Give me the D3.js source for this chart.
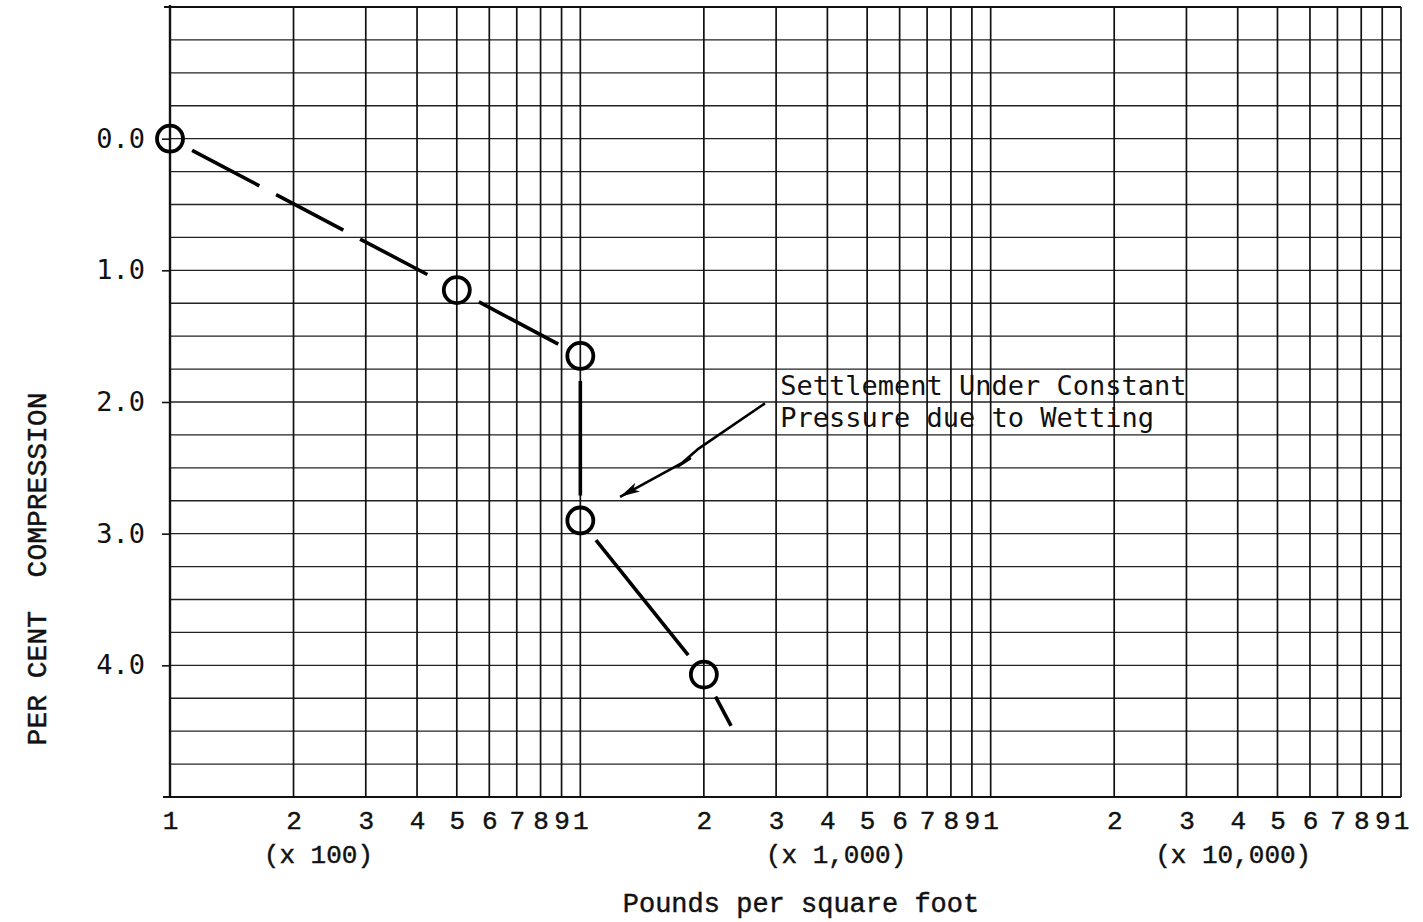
<!DOCTYPE html>
<html>
<head>
<meta charset="utf-8">
<script src="https://cdn.jsdelivr.net/npm/d3@7"></script>
<style>
    body { margin: 0; background: #fff; }
    svg { display: block; }
    .mono { font-family: 'Liberation Mono', 'Courier New', monospace; fill: #111; stroke: #111; stroke-width: 0.45px; }
    .gothic { font-family: 'DejaVu Sans Mono', monospace; fill: #111; }
</style>
</head>
<body>
<div id="chart"></div>
<script>
//Datos del ensayo
const pressure = [100, 500, 1000, 1000, 2000];
const compression = [0.0, 1.15, 1.65, 2.9, 4.07];
const tailPressure = [2330];
const tailCompression = [4.46];

//Ejes
const yTicks = [0, 1, 2, 3, 4];
const decades = [100, 1000, 10000];
const multipliers = [1, 2, 3, 4, 5, 6, 7, 8, 9];
const xTickLabels = ['1', '2', '3', '4', '5', '6', '7', '8', '9'];
const decadeLabels = ['(x 100)', '(x 1,000)', '(x 10,000)'];
const decadeLabelAt = [230, 4200, 39000];

//Anotación
const annotationLines = ['Settlement Under Constant', 'Pressure due to Wetting'];
const annotationPressure = [3070];
const annotationCompression = [1.95];
const arrowPressure = [2818, 1930, 1730, 1850, 1250];
const arrowCompression = [2.01, 2.36, 2.49, 2.43, 2.72];

let margin = {top: 7, right: 22, bottom: 125, left: 170},
    width = 1423 - margin.left - margin.right,
    height = 922 - margin.top - margin.bottom;

let svg = d3.select('#chart')
    .append('svg')
        .attr('width', width + margin.left + margin.right)
        .attr('height', height + margin.top + margin.bottom)
    .append('g')
        .attr('transform', 'translate(' + margin.left + ',' + margin.top + ')');

let x = d3.scaleLog()
    .domain([100, 100000])
    .range([0, width]);

let y = d3.scaleLinear()
    .domain([-1, 5])
    .range([0, height]);

//Rejilla
let xGrid = [];
decades.forEach(function(dec) {
    multipliers.forEach(function(m) { xGrid.push(dec * m); });
});
xGrid.push(100000);

let yGrid = d3.range(-1, 5.001, 0.25);

svg.append('g')
    .selectAll('line')
    .data(yGrid)
    .enter()
    .append('line')
    .attr('x1', 0)
    .attr('x2', width)
    .attr('y1', function(d) { return y(d); })
    .attr('y2', function(d) { return y(d); })
    .attr('stroke', '#222')
    .attr('stroke-width', 1.3);

svg.append('g')
    .selectAll('line')
    .data(xGrid)
    .enter()
    .append('line')
    .attr('x1', function(d) { return x(d); })
    .attr('x2', function(d) { return x(d); })
    .attr('y1', 0)
    .attr('y2', height)
    .attr('stroke', '#111')
    .attr('stroke-width', 1.7);

//Marco
svg.append('line')
    .attr('x1', -6).attr('x2', width)
    .attr('y1', 0).attr('y2', 0)
    .attr('stroke', '#111').attr('stroke-width', 1.8);
svg.append('line')
    .attr('x1', -7).attr('x2', width)
    .attr('y1', height).attr('y2', height)
    .attr('stroke', '#111').attr('stroke-width', 1.8);
svg.append('line')
    .attr('x1', 0).attr('x2', 0)
    .attr('y1', -2).attr('y2', height)
    .attr('stroke', '#111').attr('stroke-width', 2.4);

//Eje X
let xAxis = d3.axisBottom(x)
    .tickValues(xGrid)
    .tickSize(0)
    .tickPadding(14)
    .tickFormat(function(d, i) { return xTickLabels[i % 9]; });

let gx = svg.append('g')
    .attr('transform', 'translate(0,' + height + ')')
    .call(xAxis);
gx.select('.domain').remove();
gx.selectAll('text')
    .attr('class', 'mono')
    .style('font-size', '26px');

svg.append('g')
    .selectAll('text')
    .data(decadeLabels)
    .enter()
    .append('text')
    .attr('class', 'mono')
    .attr('x', function(d, i) { return x(decadeLabelAt[i]); })
    .attr('y', height + 66)
    .attr('text-anchor', 'middle')
    .style('font-size', '26px')
    .text(function(d) { return d; });

//Eje Y
let yAxis = d3.axisLeft(y)
    .tickValues(yTicks)
    .tickSize(8)
    .tickPadding(17)
    .tickFormat(d3.format('.1f'));

let gy = svg.append('g').call(yAxis);
gy.select('.domain').remove();
gy.selectAll('.tick line').attr('stroke', '#111').attr('stroke-width', 1.6);
gy.selectAll('text')
    .attr('class', 'gothic')
    .style('font-size', '27px');

//Títulos
svg.append('text')
    .attr('class', 'mono')
    .attr('x', 631)
    .attr('y', height + 115)
    .attr('text-anchor', 'middle')
    .style('font-size', '27px')
    .text('Pounds per square foot');

svg.append('text')
    .attr('class', 'mono')
    .attr('transform', 'translate(' + (46 - margin.left) + ',' + 562 + ') rotate(-90)')
    .attr('text-anchor', 'middle')
    .style('font-size', '28px')
    .style('white-space', 'pre')
    .attr('xml:space', 'preserve')
    .text('PER CENT  COMPRESSION');

//Curva
let pts = pressure.map(function(p, i) { return [x(p), y(compression[i]), true]; });
tailPressure.forEach(function(p, i) { pts.push([x(p), y(tailCompression[i]), false]); });

let gap = 25;
let segs = [];
for (let i = 0; i < pts.length - 1; i++) {
    let a = pts[i], b = pts[i + 1];
    let dx = b[0] - a[0], dy = b[1] - a[1];
    let len = Math.sqrt(dx * dx + dy * dy);
    let ux = dx / len, uy = dy / len;
    let s = a[2] ? gap : 0, e = b[2] ? gap : 0;
    segs.push({
        x1: a[0] + ux * s, y1: a[1] + uy * s,
        x2: b[0] - ux * e, y2: b[1] - uy * e,
        dashed: i < 1
    });
}

svg.append('g')
    .selectAll('line')
    .data(segs)
    .enter()
    .append('line')
    .attr('x1', function(d) { return d.x1; })
    .attr('y1', function(d) { return d.y1; })
    .attr('x2', function(d) { return d.x2; })
    .attr('y2', function(d) { return d.y2; })
    .attr('stroke', '#000')
    .attr('stroke-width', 3.6)
    .attr('stroke-dasharray', function(d) { return d.dashed ? '76,19' : null; });

svg.append('g')
    .selectAll('circle')
    .data(pressure)
    .enter()
    .append('circle')
    .attr('cx', function(d) { return x(d); })
    .attr('cy', function(d, i) { return y(compression[i]); })
    .attr('r', 13)
    .attr('fill', 'none')
    .attr('stroke', '#000')
    .attr('stroke-width', 3.8);

//Anotación y flecha
svg.append('defs')
    .append('marker')
    .attr('id', 'arrow')
    .attr('markerUnits', 'userSpaceOnUse')
    .attr('viewBox', '0 0 20 10')
    .attr('refX', 20)
    .attr('refY', 5)
    .attr('markerWidth', 20)
    .attr('markerHeight', 10)
    .attr('orient', 'auto')
    .append('path')
    .attr('d', 'M0,0 L20,5 L0,10 L5,5 z')
    .attr('fill', '#000');

let arrowLine = d3.line()
    .x(function(d) { return x(d); })
    .y(function(d, i) { return y(arrowCompression[i]); });

svg.append('path')
    .attr('d', arrowLine(arrowPressure))
    .attr('fill', 'none')
    .attr('stroke', '#000')
    .attr('stroke-width', 2.6)
    .attr('stroke-linejoin', 'round')
    .attr('marker-end', 'url(#arrow)');

svg.append('g')
    .selectAll('text')
    .data(annotationLines)
    .enter()
    .append('text')
    .attr('class', 'gothic')
    .attr('x', x(annotationPressure[0]))
    .attr('y', function(d, i) { return y(annotationCompression[0]) + i * 32; })
    .style('font-size', '27px')
    .text(function(d) { return d; });
</script>
</body>
</html>
